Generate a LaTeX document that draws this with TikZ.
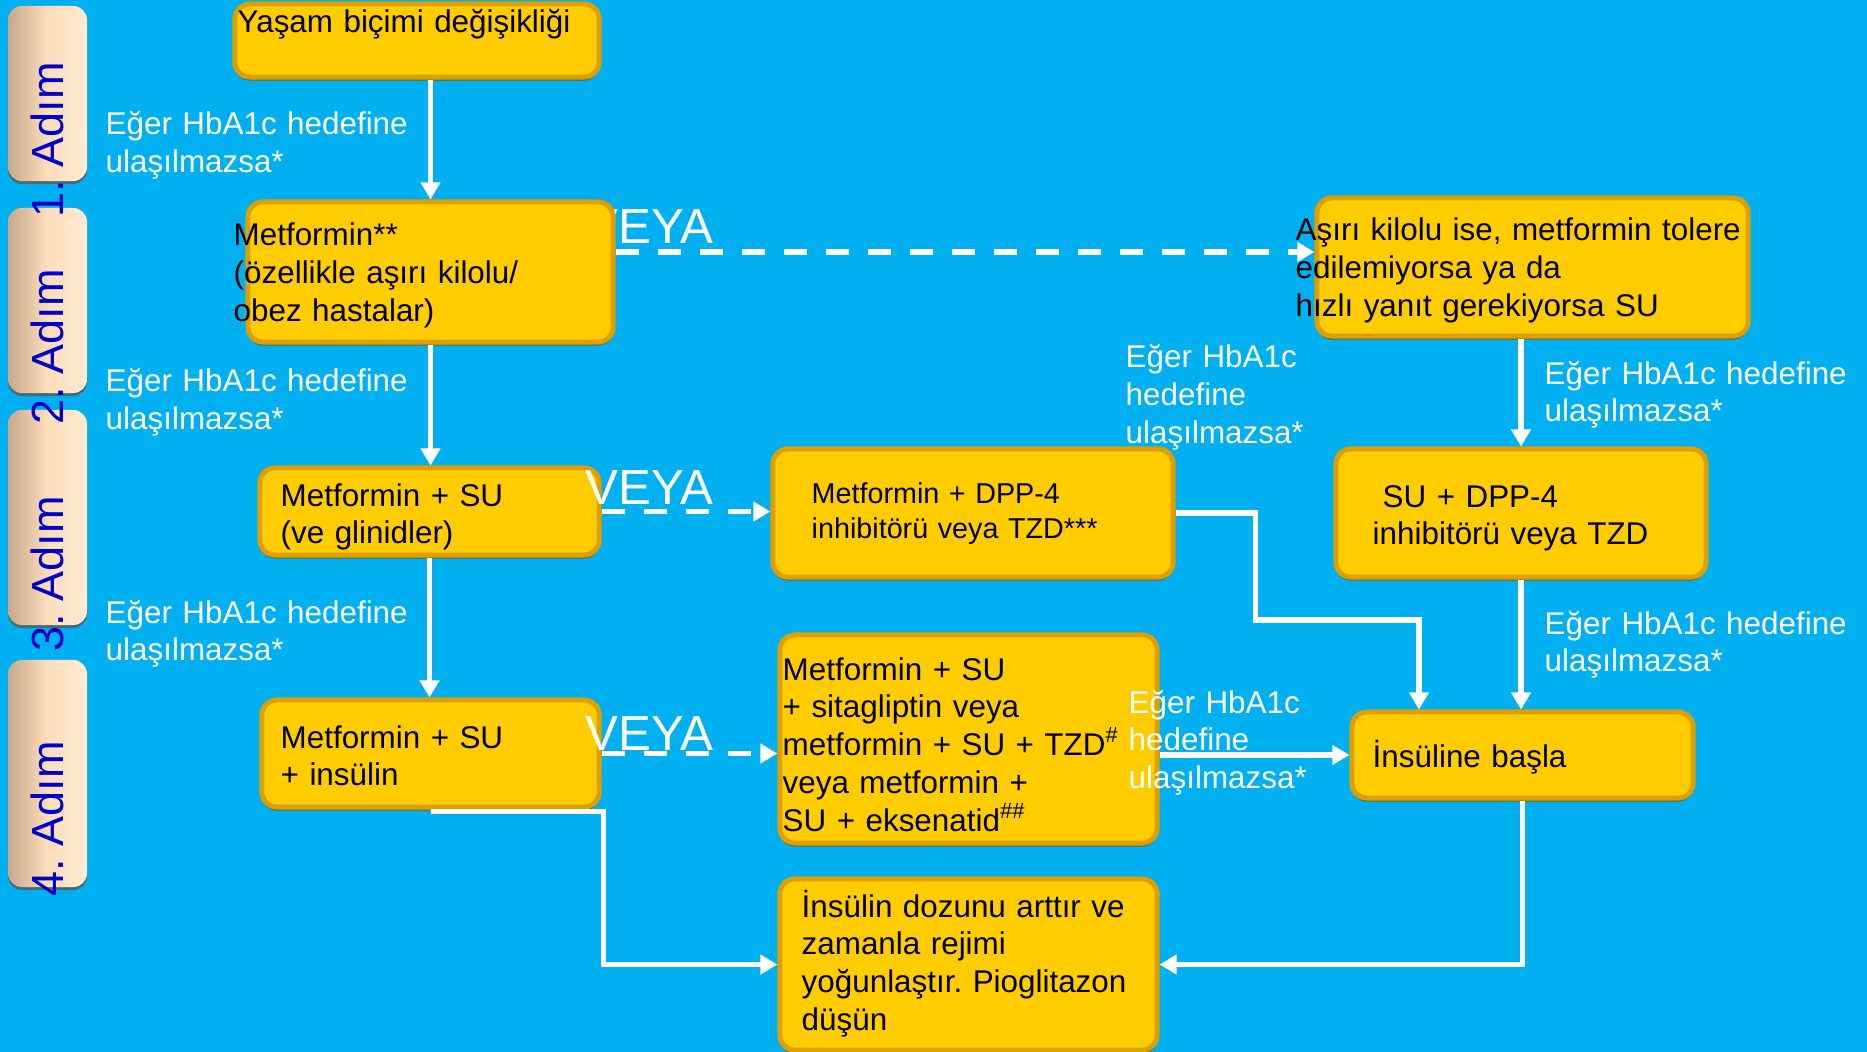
\documentclass[tikz,border=0pt]{standalone}
\usepackage{fontspec}
\setmainfont{Liberation Sans}
\usetikzlibrary{arrows.meta,shadows}
\frenchspacing

\definecolor{bgblue}{RGB}{0,176,240}
\definecolor{boxyellow}{RGB}{255,204,0}
\definecolor{boxedge}{RGB}{222,160,0}
\definecolor{boxshade}{RGB}{125,90,0}
\definecolor{tabpeach}{RGB}{252,221,188}
\definecolor{tabdark}{RGB}{200,168,138}
\definecolor{tablight}{RGB}{255,236,212}
\definecolor{tabblue}{RGB}{0,0,200}

\newcommand{\flowfont}{\fontsize{8.93}{10.8}\selectfont}
\newcommand{\smallflowfont}{\fontsize{8.17}{10.2}\selectfont}
\newcommand{\tabfont}{\fontsize{12.8}{15}\selectfont}
\newcommand{\veyafont}{\fontsize{14}{16}\selectfont}

\begin{document}
\begin{tikzpicture}[
  x=0.01cm, y=-0.01cm,
  stepbox/.style={draw=boxedge, line width=0.05cm, fill=boxyellow, rounded corners=0.15cm, inner sep=0pt,
    drop shadow={shadow xshift=0cm, shadow yshift=-0.035cm, fill=boxshade, opacity=0.9}},
  adimtab/.style={rounded corners=0.14cm, left color=tabdark, right color=tablight, middle color=tabpeach,
    inner sep=0pt, drop shadow={shadow xshift=0cm, shadow yshift=-0.03cm, fill=black!65, opacity=0.8}},
  adimlabel/.style={rotate=90, font=\tabfont, text=tabblue, inner sep=0pt},
  boxtext/.style={font=\flowfont, text width=5cm, align=left, inner sep=0pt, anchor=base west},
  note/.style={boxtext, text=white},
  veyatext/.style={font=\veyafont, text=white, inner sep=0pt, anchor=base west},
  flow/.style={draw=white, line width=0.055cm, -{Triangle[length=0.17cm,width=0.19cm]}},
  orflow/.style={flow, dash pattern=on 0.23cm off 0.19cm}
]

\useasboundingbox (0,0) rectangle (1867,1052);
\fill[bgblue] (0,0) rectangle (1867,1052);

% step tabs on the left
\node[adimtab, minimum width=0.79cm, minimum height=1.75cm] (tab1) at (47.5,93.5) {};
\node[adimtab, minimum width=0.79cm, minimum height=1.85cm] (tab2) at (47.5,300.5) {};
\node[adimtab, minimum width=0.79cm, minimum height=2.15cm] (tab3) at (47.5,517.5) {};
\node[adimtab, minimum width=0.79cm, minimum height=2.27cm] (tab4) at (47.5,773.5) {};
\node[adimlabel] (adim1) at (47,140) {1. Adım};
\node[adimlabel] (adim2) at (47,347) {2. Adım};
\node[adimlabel] (adim3) at (47,574) {3. Adım};
\node[adimlabel] (adim4) at (47,819) {4. Adım};

\node[veyatext] (veya1) at (585,244) {VEYA};

% boxes
\node[stepbox, minimum width=3.64cm, minimum height=0.73cm] (yasam) at (417,40.5) {};
\node[stepbox, minimum width=3.65cm, minimum height=1.40cm] (metf) at (430.5,272) {};
\node[stepbox, minimum width=4.31cm, minimum height=1.38cm] (su) at (1532.5,267) {};
\node[stepbox, minimum width=3.39cm, minimum height=0.87cm] (metsu) at (429.5,511.5) {};
\node[stepbox, minimum width=4.00cm, minimum height=1.28cm] (metdpp) at (973,513) {};
\node[stepbox, minimum width=3.70cm, minimum height=1.28cm] (sudpp) at (1521,513) {};
\node[stepbox, minimum width=3.37cm, minimum height=1.07cm] (metins) at (430.5,753.5) {};
\node[stepbox, minimum width=3.77cm, minimum height=2.08cm] (triple) at (968.5,739) {};
\node[stepbox, minimum width=3.41cm, minimum height=0.86cm] (ins) at (1522.5,755) {};
\node[stepbox, minimum width=3.77cm, minimum height=1.71cm] (dose) at (968.5,964.5) {};

% box texts
\node[boxtext] (yasamtxt) at (237,33) {Yaşam biçimi değişikliği};
\node[boxtext] (metftxt) at (233,246) {Metformin**\\(özellikle aşırı kilolu/\\obez hastalar)};
\node[boxtext] (sutxt) at (1295,241) {Aşırı kilolu ise, metformin tolere\\edilemiyorsa ya da\\hızlı yanıt gerekiyorsa SU};
\node[boxtext] (metsutxt) at (280,506) {Metformin + SU\\(ve glinidler)};
\node[boxtext, font=\smallflowfont] (metdpptxt) at (811,503) {Metformin + DPP-4\\inhibitörü veya TZD***};
\node[boxtext] (sudpptxt) at (1372,507) {\hspace*{0.1cm}SU + DPP-4\\inhibitörü veya TZD};
\node[boxtext] (metinstxt) at (280,748) {Metformin + SU\\+ insülin};
\node[boxtext] (tripletxt) at (782,680) {Metformin + SU\\+ sitagliptin veya\\metformin + SU + TZD\textsuperscript{\#}\\veya metformin +\\SU + eksenatid\textsuperscript{\#\#}};
\node[boxtext] (instxt) at (1372,767) {İnsüline başla};
\node[boxtext] (dosetxt) at (801,917) {İnsülin dozunu arttır ve\\zamanla rejimi\\yoğunlaştır. Pioglitazon\\düşün};

% conditions
\node[note] (cond1) at (105,135) {Eğer HbA1c hedefine\\ulaşılmazsa*};
\node[note] (cond2) at (105,392) {Eğer HbA1c hedefine\\ulaşılmazsa*};
\node[note] (cond3) at (105,623) {Eğer HbA1c hedefine\\ulaşılmazsa*};
\node[note] (cond4) at (1544,384) {Eğer HbA1c hedefine\\ulaşılmazsa*};
\node[note] (cond5) at (1544,634) {Eğer HbA1c hedefine\\ulaşılmazsa*};
\node[note] (cond6) at (1125,368) {Eğer HbA1c\\hedefine\\ulaşılmazsa*};
\node[note] (cond7) at (1128,713) {Eğer HbA1c\\hedefine\\ulaşılmazsa*};

\node[veyatext] (veya2) at (585,504) {VEYA};
\node[veyatext] (veya3) at (585,750) {VEYA};

% connectors
\draw[flow] (yasam.south -| metf.north) -- (metf.north);
\draw[flow] (metf.south) -- (metf.south |- metsu.north);
\draw[flow] (metsu.south) -- (metsu.south |- metins.north);
\draw[orflow] ([yshift=0.2cm]metf.east) -- ([yshift=0.2cm]metf.east -| su.west);
\draw[orflow] (metsu.east) -- (metsu.east -| metdpp.west);
\draw[orflow] (metins.east) -- (metins.east -| triple.west);
\draw[flow] (su.south -| sudpp.north) -- (sudpp.north);
\draw[flow] (sudpp.south) -- (sudpp.south |- ins.north);
\draw[flow] (metdpp.east) -| ++(80,107) -| ([xshift=-1.035cm]ins.north);
\draw[flow] (triple.east |- ins.west) -- (ins.west);
\draw[flow] (ins.south) |- (dose.east);
\draw[flow] ([yshift=-0.02cm]metins.south) -| ([xshift=-1.74cm]dose.west) -- (dose.west);
\end{tikzpicture}
\end{document}
